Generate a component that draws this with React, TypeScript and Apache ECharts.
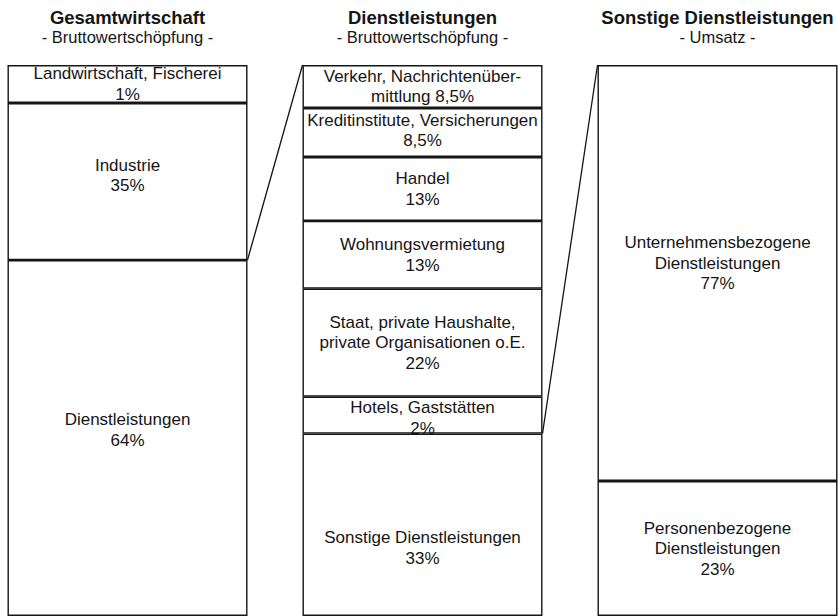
import React, { useEffect, useRef } from "react";
import * as echarts from "echarts";

// ---- data ----
const categories = ["Gesamtwirtschaft", "Dienstleistungen", "Sonstige Dienstleistungen"];
const subtitles = ["- Bruttowertschöpfung -", "- Bruttowertschöpfung -", "- Umsatz -"];

const gesamtNames = ["Landwirtschaft, Fischerei", "Industrie", "Dienstleistungen"];
const gesamtPercents = ["1%", "35%", "64%"];
const gesamtShares = [6.9, 28.5, 64.6]; // drawn heights (% of bar)

const dienstNames = [
  "Verkehr, Nachrichtenüber-\nmittlung",
  "Kreditinstitute, Versicherungen",
  "Handel",
  "Wohnungsvermietung",
  "Staat, private Haushalte,\nprivate Organisationen o.E.",
  "Hotels, Gaststätten",
  "Sonstige Dienstleistungen",
];
const dienstPercents = ["8,5%", "8,5%", "13%", "13%", "22%", "2%", "33%"];
const dienstShares = [7.8, 8.9, 11.6, 12.3, 19.6, 6.7, 33.1];

const sonstigeNames = ["Unternehmensbezogene\nDienstleistungen", "Personenbezogene\nDienstleistungen"];
const sonstigePercents = ["77%", "23%"];
const sonstigeShares = [75.5, 24.5];

// which segment of a bar is broken down in the next bar
const expandedSegment = [2, 6];

// ---- styles ----
const BAR_WIDTH = 240;
const FONT = "'Liberation Sans', Arial, sans-serif";
const INK = "#151515";
const inlinePercent = [[false, false, false], [true, false, false, false, false, false, false], [false, false]];
const labelOffsets = [[0, -6, -8], [0, -2, 0, 0, 0, 3, 23], [-10, 0]];

const bars = [
  { names: gesamtNames, percents: gesamtPercents, shares: gesamtShares },
  { names: dienstNames, percents: dienstPercents, shares: dienstShares },
  { names: sonstigeNames, percents: sonstigePercents, shares: sonstigeShares },
];

export default function App() {
  const ref = useRef<HTMLDivElement>(null);

  useEffect(() => {
    if (!ref.current) return;
    const chart = echarts.init(ref.current, null, { renderer: "svg" });

    const barSeries: any[] = [];
    bars.forEach((b, bi) => {
      b.shares.forEach((s, si) => {
        const text = b.names[si] + (inlinePercent[bi][si] ? " " : "\n") + b.percents[si];
        barSeries.push({
          type: "bar",
          name: b.names[si],
          stack: "total",
          barWidth: BAR_WIDTH,
          data: categories.map((_, ci) => (ci === bi ? s : "-")),
          itemStyle: { color: "#ffffff", borderColor: INK, borderWidth: 1.4 },
          label: {
            show: true,
            position: "inside",
            formatter: () => text,
            color: INK,
            fontFamily: FONT,
            fontSize: 17,
            lineHeight: 20.5,
            offset: [0, labelOffsets[bi][si]],
          },
          silent: true,
        });
      });
    });

    const sum = (arr: number[], n: number) => arr.slice(0, n).reduce((a, v) => a + v, 0);
    const connectors = expandedSegment.map((seg, i) => [i, sum(bars[i].shares, seg), i + 1, 0]);

    chart.setOption({
      animation: false,
      grid: { left: 0, right: 0, top: 65, bottom: -1 },
      xAxis: { type: "category", data: categories, show: false },
      yAxis: { type: "value", min: 0, max: 100, inverse: true, show: false, splitLine: { show: false } },
      series: [
        ...barSeries,
        {
          type: "custom",
          data: connectors,
          clip: false,
          silent: true,
          z: 5,
          renderItem: (_params: any, api: any) => {
            const a = api.coord([api.value(0), api.value(1)]);
            const b = api.coord([api.value(2), api.value(3)]);
            return {
              type: "line",
              shape: { x1: a[0] + BAR_WIDTH / 2, y1: a[1], x2: b[0] - BAR_WIDTH / 2, y2: b[1] },
              style: { stroke: INK, lineWidth: 1.3 },
            };
          },
        },
      ],
    });

    const graphics: any[] = [];
    categories.forEach((c, i) => {
      const cx = chart.convertToPixel({ xAxisIndex: 0 }, c) as number;
      graphics.push({
        type: "text",
        x: cx,
        y: 17,
        style: { text: c, fill: INK, font: `bold 18.5px ${FONT}`, textAlign: "center", textVerticalAlign: "middle" },
      });
      graphics.push({
        type: "text",
        x: cx,
        y: 36.5,
        style: { text: subtitles[i], fill: INK, font: `16.5px ${FONT}`, textAlign: "center", textVerticalAlign: "middle" },
      });
    });
    chart.setOption({ graphic: graphics });

    return () => chart.dispose();
  }, []);

  return (
    <div
      style={{ position: "fixed", left: 0, top: 0, width: 838, height: 616, overflow: "hidden", background: "#fff" }}
    >
      <div ref={ref} style={{ position: "absolute", left: -20.5, top: 0, width: 885, height: 616 }} />
    </div>
  );
}
